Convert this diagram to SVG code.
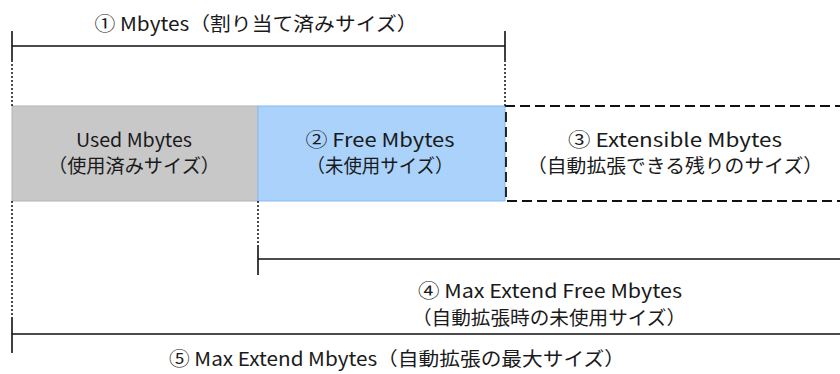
<svg xmlns="http://www.w3.org/2000/svg" width="840" height="374" viewBox="0 0 840 374">
<style>
text{font-family:"Noto Sans CJK JP","Noto Sans",sans-serif;font-size:19px;fill:#1a1a1a;text-anchor:middle}
.solid{stroke:#111;stroke-width:1.6;fill:none}
.dot{stroke:#111;stroke-width:1.5;stroke-dasharray:2 2;fill:none}
.dash{stroke:#111;stroke-width:1.8;stroke-dasharray:10 5;fill:none}
</style>
<rect width="840" height="374" fill="#fff"/>
<g id="used">
<rect x="12" y="106" width="246" height="95" fill="#c8c8c8" stroke="#b4b4b4" stroke-width="1"/>
<text x="134" y="147" textLength="116" lengthAdjust="spacingAndGlyphs">Used Mbytes</text>
<text x="134" y="173" textLength="172" lengthAdjust="spacingAndGlyphs">（使用済みサイズ）</text>
</g>
<g id="free">
<rect x="258" y="106" width="247" height="95" fill="#aad2fb" stroke="#84bcf3" stroke-width="1"/>
<text x="380" y="147" textLength="149" lengthAdjust="spacingAndGlyphs">② Free Mbytes</text>
<text x="380" y="173" textLength="147" lengthAdjust="spacingAndGlyphs">（未使用サイズ）</text>
</g>
<g id="extensible">
<path class="dash" d="M845 106 H506 V201 H845"/>
<text x="675" y="147" textLength="214" lengthAdjust="spacingAndGlyphs">③ Extensible Mbytes</text>
<text x="675" y="173" textLength="296" lengthAdjust="spacingAndGlyphs">（自動拡張できる残りのサイズ）</text>
</g>
<g id="connectors">
<path class="solid" d="M12 31 V60 M505 31 V60 M12 46 H505"/>
<path class="dot" d="M12 60 V106 M505 60 V106"/>
<path class="dot" d="M12 201 V317 M258 201 V245"/>
<path class="solid" d="M258 245 V275 M258 259 H840"/>
<path class="solid" d="M12 317 V353 M12 334 H840"/>
</g>
<g id="labels">
<text x="256" y="31" textLength="323" lengthAdjust="spacingAndGlyphs">① Mbytes（割り当て済みサイズ）</text>
<text x="550" y="298" textLength="264" lengthAdjust="spacingAndGlyphs">④ Max Extend Free Mbytes</text>
<text x="549" y="325" textLength="274" lengthAdjust="spacingAndGlyphs">（自動拡張時の未使用サイズ）</text>
<text x="397" y="366" textLength="456" lengthAdjust="spacingAndGlyphs">⑤ Max Extend Mbytes（自動拡張の最大サイズ）</text>
</g>
</svg>
